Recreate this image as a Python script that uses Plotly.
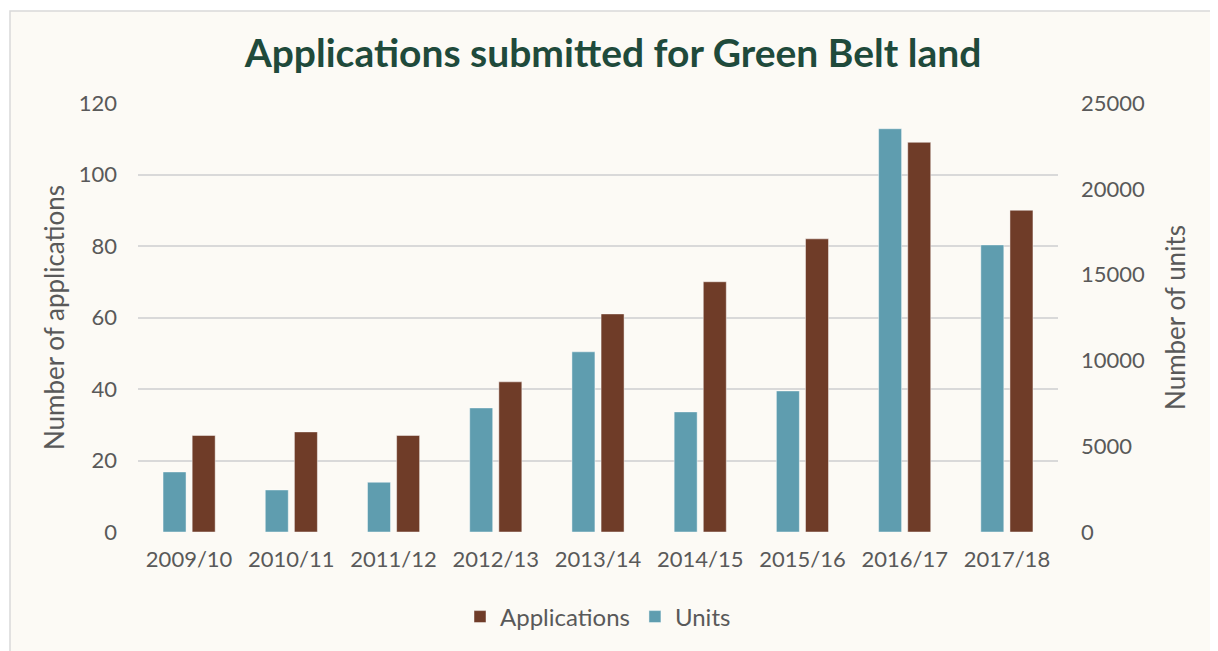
import plotly.graph_objects as go

years = ["2009/10", "2010/11", "2011/12", "2012/13", "2013/14", "2014/15", "2015/16", "2016/17", "2017/18"]
applications = [27, 28, 27, 42, 61, 70, 82, 109, 90]
units = [3500, 2450, 2900, 7230, 10500, 7000, 8220, 23500, 16730]

OFF = 8  # page body margin
W, H = 1218 - OFF, 651 - OFF
L, R, T, B = 138 - OFF, 1058 - OFF, 103 - OFF, 532 - OFF

def px_x(p):
    return (p - OFF - L) / (R - L)

def px_y(p):
    return (B - (p - OFF)) / (B - T)

BROWN = "#6F3C28"
TEAL = "#5F9DAF"
GRAY = "#595959"
FONT = "Lato"

fig = go.Figure()
fig.add_trace(go.Bar(
    x=years, y=applications, name="Applications", yaxis="y",
    marker=dict(color=BROWN, line=dict(color="rgba(255,255,255,0.45)", width=1)),
    width=0.225, offset=0.03, offsetgroup="a",
))
fig.add_trace(go.Bar(
    x=years, y=units, name="Units", yaxis="y2",
    marker=dict(color=TEAL, line=dict(color="rgba(255,255,255,0.45)", width=1)),
    width=0.225, offset=-0.255, offsetgroup="u",
))

fig.update_layout(
    width=W, height=H,
    margin=dict(l=L, r=W - R, t=T, b=H - B),
    paper_bgcolor="white",
    plot_bgcolor="rgba(0,0,0,0)",
    font=dict(family=FONT, color=GRAY, size=22),
    title=dict(text="<b>Applications submitted for Green Belt land</b>",
               font=dict(family=FONT, size=39, color="#1F4A3B"),
               x=0.5, xanchor="center", y=1 - (53 - OFF) / H, yanchor="middle"),
    barmode="overlay",
    showlegend=True,
    legend=dict(orientation="h", x=0.5, xanchor="center", y=px_y(617), yanchor="middle",
                font=dict(size=24, color=GRAY), traceorder="normal",
                bgcolor="rgba(0,0,0,0)"),
    xaxis=dict(showgrid=False, showline=False, ticks="", tickfont=dict(size=22, color=GRAY),
               ticklabelstandoff=12),
    yaxis=dict(range=[0, 120], dtick=20, showgrid=True, gridcolor="#D9D9D9", gridwidth=1.5,
               zeroline=False, showline=False, tickfont=dict(size=22, color=GRAY),
               title=dict(text="Number of applications", font=dict(size=26, color=GRAY), standoff=6),
               ticklabelstandoff=20),
    yaxis2=dict(range=[0, 25000], dtick=5000, overlaying="y", side="right", showgrid=False,
                zeroline=False, showline=False, tickfont=dict(size=22, color=GRAY),
                tickformat="d",
                title=dict(text="Number of units", font=dict(size=26, color=GRAY), standoff=22),
                ticklabelstandoff=22),
    shapes=[dict(type="rect", xref="paper", yref="paper",
                 x0=px_x(10), x1=px_x(1300), y0=px_y(700), y1=px_y(11),
                 fillcolor="#FCFAF5", line=dict(color="#D9D9D9", width=1.5), layer="below")],
)

fig.write_html("out.html")
